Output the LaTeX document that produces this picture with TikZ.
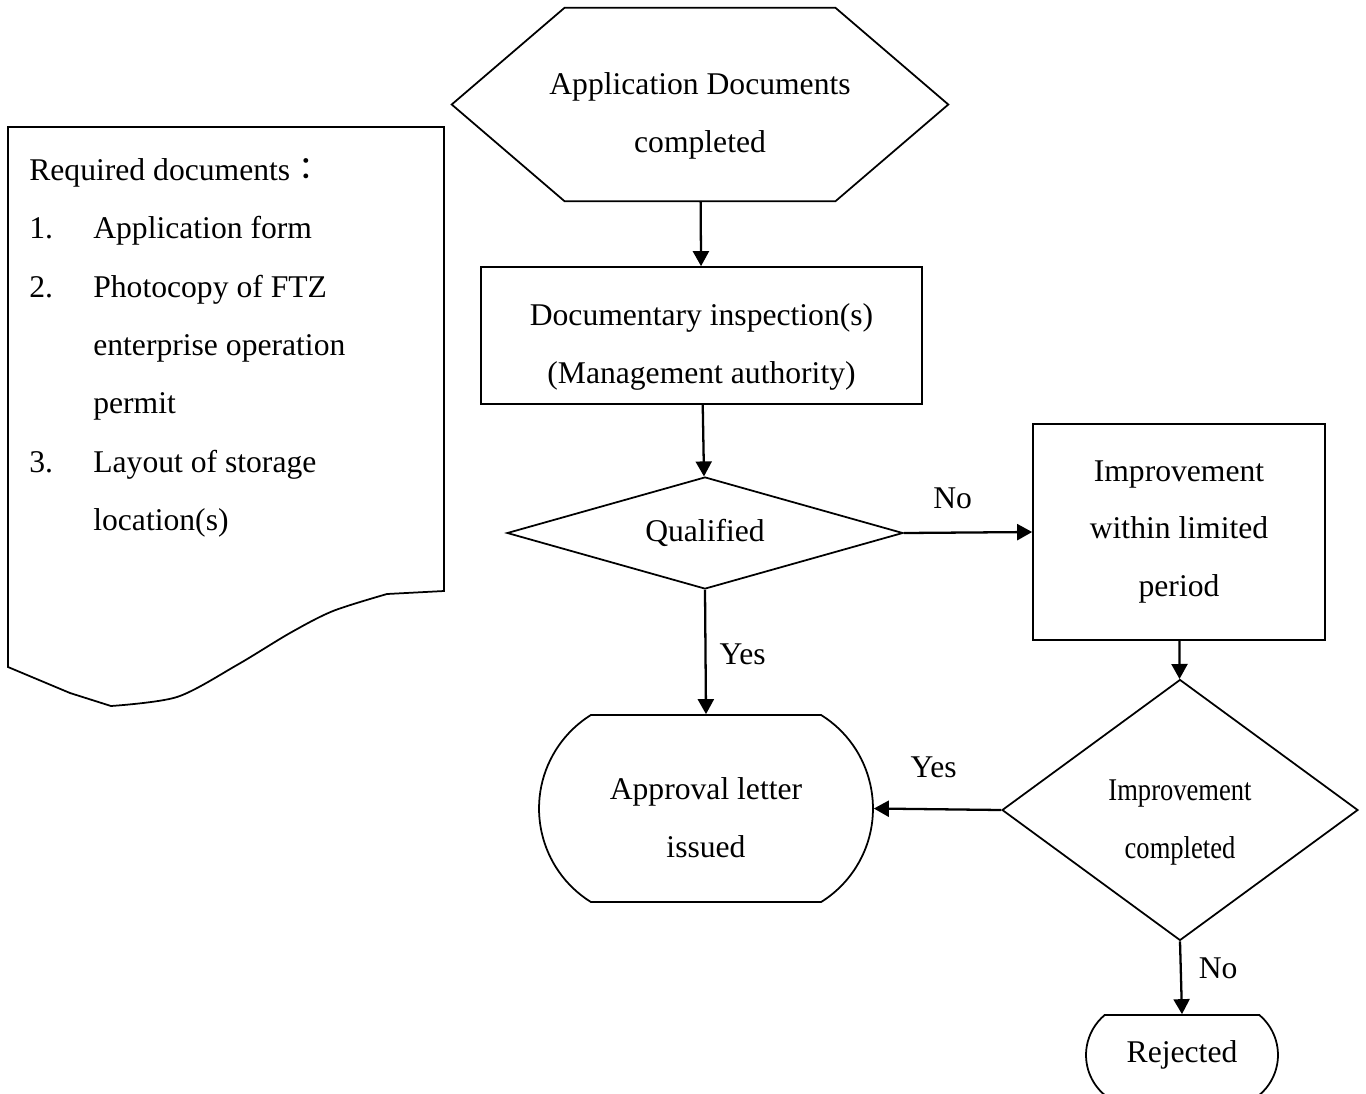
\documentclass[tikz,border=0pt]{standalone}
\usepackage{fontspec}
\setmainfont{Liberation Serif}
\newfontfamily\cjk{Noto Sans CJK TC}
\usepackage{graphicx}
\usetikzlibrary{positioning,shapes.geometric,shapes.misc,arrows.meta,calc}
\newcommand{\cond}[1]{\scalebox{0.84}[1]{#1}}

\tikzset{
  box/.style={draw, line width=1pt, rectangle, align=center, inner sep=0pt},
  decide/.style={draw, line width=1pt, diamond, align=center, inner sep=0pt},
  term/.style={draw, line width=1pt, rounded rectangle, align=center, inner sep=0pt},
  line/.style={draw, line width=1.3pt, -{Triangle[length=0.3cm,width=0.32cm]}},
  lbl/.style={inner sep=0pt}
}

\begin{document}
\begin{tikzpicture}[x=0.02cm, y=-0.02cm, font=\fontsize{18}{33}\selectfont]
\useasboundingbox (0,0) rectangle (1366,1093);

% start: hexagon drawn round an empty node
\node (apply) [minimum width=9.92cm, minimum height=3.86cm, align=center, inner sep=0pt] at (700,104.5) {\rule{0pt}{26pt}Application Documents\\completed};
\draw[line width=1pt] (apply.west) -- ([xshift=2.26cm]apply.north west) -- ([xshift=-2.26cm]apply.north east)
  -- (apply.east) -- ([xshift=-2.26cm]apply.south east) -- ([xshift=2.26cm]apply.south west) -- cycle;

\node (inspect) [box, minimum width=8.82cm, minimum height=2.74cm] at (701.5,335.5) {\rule{0pt}{26pt}Documentary inspection(s)\\(Management authority)};
\node (qualified) [decide, aspect=3.5, minimum width=7.92cm, minimum height=2.24cm] at (705,533) {Qualified};
\node (improve) [box, minimum width=5.84cm, minimum height=4.32cm] at (1179,532) {Improvement\\within limited\\period};
\node (done) [decide, aspect=1.36, minimum width=7.12cm, minimum height=5.22cm] at (1180,810) {\rule{0pt}{26pt}\cond{Improvement}\\\cond{completed}};
\node (approval) [term, rounded rectangle arc length=116, minimum width=6.68cm, minimum height=3.74cm] at (706,808.5) {\strut Approval letter\\issued};
\node (rejected) [term, rounded rectangle arc length=100, minimum width=3.84cm, minimum height=1.6cm] at (1182,1055) {Rejected};

% note sheet
\draw[line width=1pt] (444,127) -- (444,591) -- plot[smooth, tension=0.5] coordinates {(387,594) (333,611) (290,633) (237,665) (177,697) (111,706)}
  -- (70,693) -- (8,667) -- (8,127) -- cycle;
\node (req) [anchor=north west, inner sep=0pt, align=left, font=\fontsize{18}{33.25}\selectfont] at (29,139) {\strut Required documents{\cjk ：}\\
  \makebox[1.28cm][l]{1.}Application form\\
  \makebox[1.28cm][l]{2.}Photocopy of FTZ\\
  \hspace*{1.28cm}enterprise operation\\
  \hspace*{1.28cm}permit\\
  \makebox[1.28cm][l]{3.}Layout of storage\\
  \hspace*{1.28cm}location(s)};

% connectors
\path[line] (apply) -- (inspect);
\path[line] (inspect) -- (qualified);
\path[line] (qualified.east) -- node[lbl, pos=0.38, above=0.46cm] {No} (improve.west);
\path[line] (qualified.south) -- node[lbl, pos=0.52, right=0.26cm] {Yes} (approval.north);
\path[line] (improve) -- (done);
\path[line] (done.west) -- node[lbl, pos=0.53, above=0.6cm] {Yes} (approval.east);
\path[line] (done.south) -- node[lbl, pos=0.37, right=0.34cm] {No} (rejected.north);
\end{tikzpicture}
\end{document}
